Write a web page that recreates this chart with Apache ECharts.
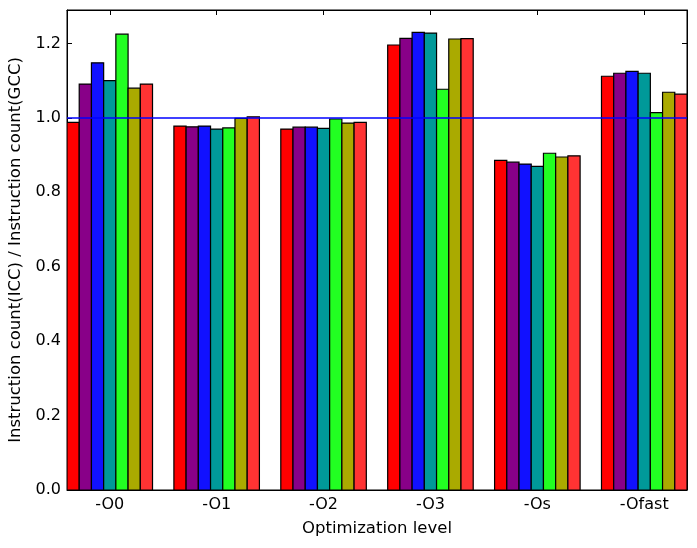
<!DOCTYPE html>
<html>
<head>
<meta charset="utf-8">
<script src="https://cdn.jsdelivr.net/npm/echarts@6/dist/echarts.min.js"></script>
<style>
  html, body { margin: 0; padding: 0; background: #fff; }
  #chart { width: 697px; height: 548px; }
</style>
</head>
<body>
<div id="chart"></div>
<script>
const categories = ['-O0', '-O1', '-O2', '-O3', '-Os', '-Ofast']
const yTicks = [0, 0.2, 0.4, 0.6, 0.8, 1.0, 1.2]
const refLine = 1.0

// one array per bar colour, one value per optimization level
const series1 = [0.988, 0.978, 0.970, 1.196, 0.886, 1.112]
const series2 = [1.091, 0.976, 0.975, 1.214, 0.881, 1.120]
const series3 = [1.148, 0.978, 0.975, 1.230, 0.876, 1.125]
const series4 = [1.100, 0.970, 0.972, 1.228, 0.870, 1.120]
const series5 = [1.225, 0.973, 0.997, 1.077, 0.905, 1.014]
const series6 = [1.080, 0.999, 0.986, 1.212, 0.895, 1.069]
const series7 = [1.091, 1.003, 0.988, 1.213, 0.898, 1.064]

const allSeries = [series1, series2, series3, series4, series5, series6, series7]
const colors = ['#ff0000', '#880088', '#1111ff', '#009999', '#22ff22', '#aaaa00', '#ff3333']

const barW = 0.8 / 7
const font = 'DejaVu Sans'

const chart = echarts.init(document.getElementById('chart'))

const barSeries = allSeries.map((vals, j) => ({
  type: 'custom',
  xAxisIndex: 0,
  yAxisIndex: 0,
  clip: true,
  z: 2,
  data: vals.map((v, i) => [i + (j - 3) * barW, v]),
  renderItem: function(params, api) {
    const x = api.value(0)
    const y = api.value(1)
    const p0 = api.coord([x - barW / 2, y])
    const p1 = api.coord([x + barW / 2, 0])
    return {
      type: 'rect',
      shape: { x: p0[0], y: p0[1], width: p1[0] - p0[0], height: p1[1] - p0[1] },
      style: { fill: colors[j], stroke: '#000', lineWidth: 1.2 }
    }
  }
}))

const tickIdx = categories.map((c, i) => i)

chart.setOption({
  animation: false,
  grid: {
    left: 67, right: 10, top: 10, bottom: 58,
    outerBoundsMode: 'none',
    containLabel: false,
    show: true, borderColor: '#000', borderWidth: 1
  },
  xAxis: [{
    type: 'value',
    min: -0.4,
    max: 5.4,
    name: 'Optimization level',
    nameLocation: 'middle',
    nameGap: 30,
    nameTextStyle: { fontFamily: font, fontSize: 16.5, color: '#000' },
    axisLine: { show: true, onZero: false, lineStyle: { color: '#000' } },
    axisTick: { show: true, inside: true, length: 5, customValues: tickIdx, lineStyle: { color: '#000' } },
    axisLabel: {
      customValues: tickIdx,
      margin: 7,
      fontFamily: font,
      fontSize: 16,
      color: '#000',
      formatter: v => categories[Math.round(v)]
    },
    splitLine: { show: false }
  }, {
    type: 'value',
    position: 'top',
    min: -0.4,
    max: 5.4,
    axisLine: { show: true, onZero: false, lineStyle: { color: '#000' } },
    axisTick: { show: true, inside: true, length: 5, customValues: tickIdx, lineStyle: { color: '#000' } },
    axisLabel: { show: false },
    splitLine: { show: false }
  }],
  yAxis: [{
    type: 'value',
    min: 0,
    max: 1.29,
    name: 'Instruction count(ICC) / Instruction count(GCC)',
    nameLocation: 'middle',
    nameGap: 41,
    nameTextStyle: { fontFamily: font, fontSize: 16.5, color: '#000' },
    axisLine: { show: true, onZero: false, lineStyle: { color: '#000' } },
    axisTick: { show: true, inside: true, length: 5, customValues: yTicks, lineStyle: { color: '#000' } },
    axisLabel: {
      customValues: yTicks,
      fontFamily: font,
      fontSize: 16,
      color: '#000',
      margin: 6,
      formatter: v => v.toFixed(1)
    },
    splitLine: { show: false }
  }, {
    type: 'value',
    position: 'right',
    min: 0,
    max: 1.29,
    axisLine: { show: true, onZero: false, lineStyle: { color: '#000' } },
    axisTick: { show: true, inside: true, length: 5, customValues: yTicks, lineStyle: { color: '#000' } },
    axisLabel: { show: false },
    splitLine: { show: false }
  }],
  series: barSeries.concat([{
    type: 'line',
    xAxisIndex: 0,
    yAxisIndex: 0,
    z: 5,
    symbol: 'none',
    lineStyle: { color: '#0000ff', width: 1.5 },
    data: [[-0.4, refLine], [5.4, refLine]]
  }])
})
</script>
</body>
</html>
